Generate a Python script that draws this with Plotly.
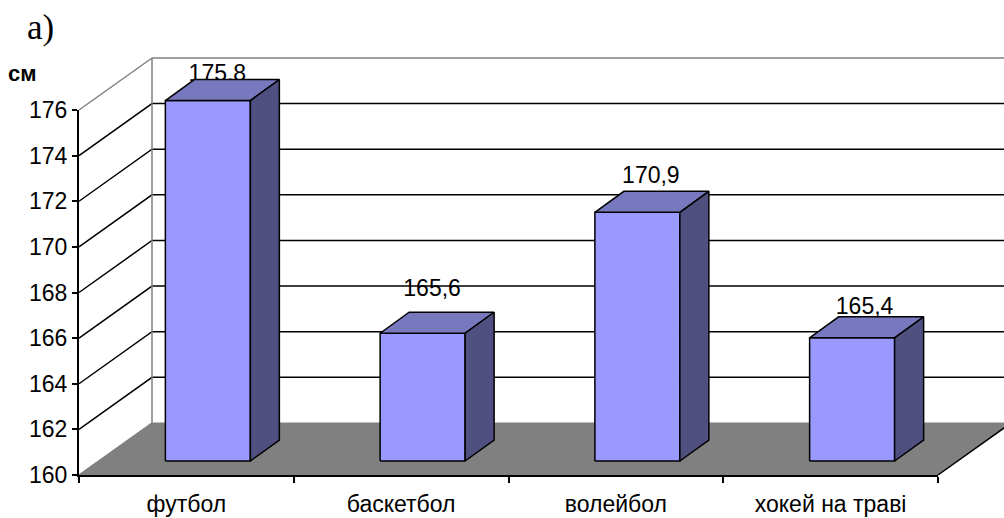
import plotly.graph_objects as go

# Mean height by sport
categories = ["футбол", "баскетбол", "волейбол", "хокей на траві"]
heights = [175.8, 165.6, 170.9, 165.4]
height_labels = ["175,8", "165,6", "170,9", "165,4"]
y_ticks = [160, 162, 164, 166, 168, 170, 172, 174, 176]

# Figure geometry, in pixels
WIDTH, HEIGHT = 1004, 518
LEFT, RIGHT, TOP, BOTTOM = 79, 66, 110, 43
Y_MIN, Y_MAX = 160, 176
PX_PER_CAT = (WIDTH - LEFT - RIGHT) / len(categories)
PX_PER_UNIT = (HEIGHT - TOP - BOTTOM) / (Y_MAX - Y_MIN)

# Oblique projection of the chart box and of the bars inside it
WALL_DX, WALL_DY = 73, 52
BAR_SHIFT_X, BAR_SHIFT_Y = 21.5, 14
BAR_DX, BAR_DY = 29, 21
BAR_WIDTH = 85

# Hand-placed data labels: offset from the centre of the bar's front top edge
LABEL_NUDGE = [(9.5, 25), (9.5, 43), (13.5, 35), (12.5, 30)]

FRONT, TOP_FACE, SIDE = "#9999FF", "#7878BE", "#4F4F80"
FLOOR, WALL_EDGE = "#808080", "#808080"
LINE_W = 1.5
SANS = "Liberation Sans, Arial"


def px(cat, value, dx=0.0, dy=0.0):
    """Data coordinates of a point shifted dx right and dy up, in pixels."""
    return cat + dx / PX_PER_CAT, value + dy / PX_PER_UNIT


def polyline(points, color, width=LINE_W, fill=None):
    xs, ys = zip(*points)
    return go.Scatter(
        x=list(xs), y=list(ys), mode="lines",
        line=dict(color=color, width=width),
        fill="toself" if fill else None, fillcolor=fill,
        hoverinfo="skip", showlegend=False,
    )


n = len(categories)
traces = []

# Floor of the box
traces.append(polyline(
    [px(0, Y_MIN), px(n, Y_MIN), px(n, Y_MIN, WALL_DX, WALL_DY), px(0, Y_MIN, WALL_DX, WALL_DY), px(0, Y_MIN)],
    FLOOR, 1, FLOOR,
))
traces.append(polyline([px(n, Y_MIN), px(n, Y_MIN, WALL_DX, WALL_DY)], "#000000"))

# Gridlines running along the side wall and the back wall
for tick in y_ticks[1:-1]:
    traces.append(polyline(
        [px(0, tick), px(0, tick, WALL_DX, WALL_DY), px(n, tick, WALL_DX, WALL_DY)], "#000000",
    ))

# Grey outline of the walls
traces.append(polyline(
    [px(0, Y_MIN), px(0, Y_MIN, WALL_DX, WALL_DY), px(0, Y_MAX, WALL_DX, WALL_DY), px(0, Y_MAX)],
    WALL_EDGE, 1.5,
))
traces.append(polyline([px(0, Y_MAX, WALL_DX, WALL_DY), px(n, Y_MAX, WALL_DX, WALL_DY)], WALL_EDGE, 1.5))

# Value labels sit underneath the bars
label_points = [
    px(i + 0.5, v, BAR_SHIFT_X + ndx, BAR_SHIFT_Y + ndy)
    for i, (v, (ndx, ndy)) in enumerate(zip(heights, LABEL_NUDGE))
]
traces.append(go.Scatter(
    x=[p[0] for p in label_points], y=[p[1] for p in label_points],
    mode="text", text=height_labels, textposition="middle center",
    textfont=dict(family=SANS, size=23, color="#000000"),
    cliponaxis=False, hoverinfo="skip", showlegend=False,
))

# Bars: front, top and side faces derived from each value
for i, v in enumerate(heights):
    half = BAR_WIDTH / 2
    sx, sy = BAR_SHIFT_X, BAR_SHIFT_Y
    c = i + 0.5
    a = px(c, Y_MIN, sx - half, sy)
    b = px(c, Y_MIN, sx + half, sy)
    d = px(c, v, sx - half, sy)
    e = px(c, v, sx + half, sy)
    f = px(c, v, sx - half + BAR_DX, sy + BAR_DY)
    g = px(c, v, sx + half + BAR_DX, sy + BAR_DY)
    h = px(c, Y_MIN, sx + half + BAR_DX, sy + BAR_DY)
    traces.append(polyline([a, b, e, d, a], "#000000", LINE_W, FRONT))
    traces.append(polyline([d, e, g, f, d], "#000000", LINE_W, TOP_FACE))
    traces.append(polyline([b, h, g, e, b], "#000000", LINE_W, SIDE))

# The visible axes get their own subplot, drawn over the marks
traces.append(go.Scatter(x=[], y=[], xaxis="x2", yaxis="y2", hoverinfo="skip", showlegend=False))

fig = go.Figure(traces)

fig.update_layout(
    width=WIDTH, height=HEIGHT,
    margin=dict(l=0, r=0, t=0, b=0, pad=0),
    paper_bgcolor="#FFFFFF", plot_bgcolor="rgba(0,0,0,0)",
    font=dict(family=SANS, color="#000000"),
    showlegend=False,
    # Full-page axes carrying the marks, so the box can project past the axis frame
    xaxis=dict(
        domain=[0, 1], visible=False, automargin=False,
        range=[-LEFT / PX_PER_CAT, (WIDTH - LEFT) / PX_PER_CAT],
    ),
    yaxis=dict(
        domain=[0, 1], visible=False, automargin=False,
        range=[Y_MIN - BOTTOM / PX_PER_UNIT, Y_MIN + (HEIGHT - BOTTOM) / PX_PER_UNIT],
    ),
    xaxis2=dict(
        domain=[LEFT / WIDTH, 1 - RIGHT / WIDTH], anchor="y2", automargin=False,
        range=[0, n], showgrid=False, zeroline=False,
        showline=True, linecolor="#000000", linewidth=2,
        tickmode="array", tickvals=[i + 0.5 for i in range(n)], ticktext=categories,
        ticks="", ticklabelstandoff=7,
        tickfont=dict(family=SANS, size=23, color="#000000"),
        minor=dict(tickmode="array", tickvals=list(range(n + 1)), ticks="outside",
                   ticklen=6, tickwidth=1.5, tickcolor="#000000", showgrid=False),
    ),
    yaxis2=dict(
        domain=[BOTTOM / HEIGHT, 1 - TOP / HEIGHT], anchor="x2", automargin=False,
        range=[Y_MIN, Y_MAX], showgrid=False, zeroline=False,
        showline=True, linecolor="#000000", linewidth=2,
        tickmode="array", tickvals=y_ticks, ticktext=[str(t) for t in y_ticks],
        ticks="outside", ticklen=5, tickwidth=1.5, tickcolor="#000000",
        tickfont=dict(family=SANS, size=23, color="#000000"),
    ),
    annotations=[
        dict(text="а)", xref="paper", yref="paper", x=25 / WIDTH, y=1 - 27 / HEIGHT,
             xanchor="left", yanchor="middle", showarrow=False,
             font=dict(family="Liberation Serif, Times New Roman", size=35, color="#000000")),
        dict(text="<b>см</b>", xref="paper", yref="paper", x=6 / WIDTH, y=1 - 73 / HEIGHT,
             xanchor="left", yanchor="middle", showarrow=False,
             font=dict(family=SANS, size=22, color="#000000")),
    ],
)

fig.write_html("out.html", config=dict(displayModeBar=False))
